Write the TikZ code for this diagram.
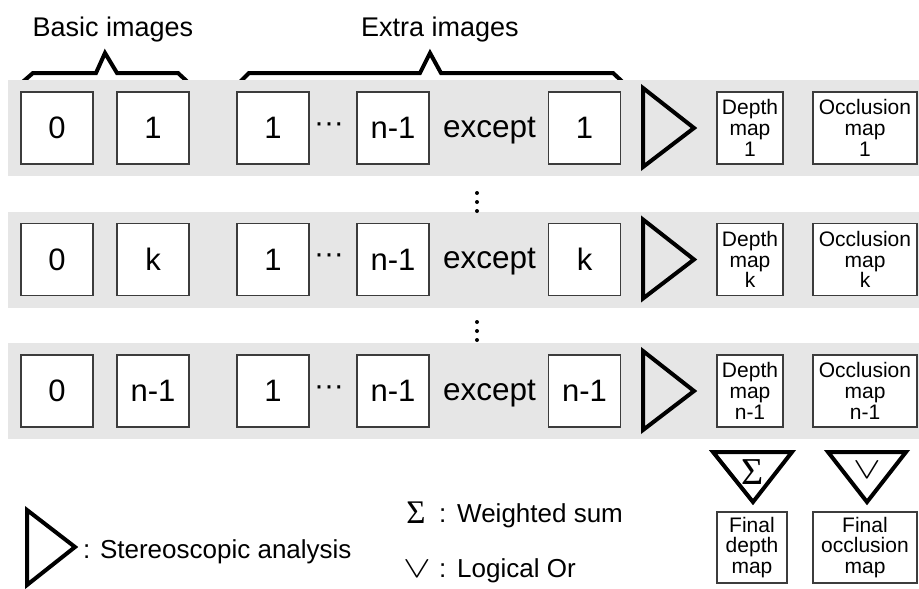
\documentclass[tikz,border=0pt]{standalone}
\usepackage{fontspec}
\setmainfont{Liberation Sans}
\newfontfamily\symserif{Liberation Serif}
\definecolor{bandgray}{RGB}{230,230,230}
\definecolor{boxgray}{RGB}{60,60,60}
\begin{document}
\begin{tikzpicture}[x=1pt,y=-1pt,
  imgbox/.style={draw=boxgray, line width=1.3pt, fill=white, minimum width=72pt, minimum height=72pt, inner sep=0pt, font=\fontsize{31}{31}\selectfont},
  mapbox/.style={draw=boxgray, line width=1.3pt, fill=white, minimum width=66pt, minimum height=72pt, inner sep=0pt, align=center, font=\fontsize{21}{20.8}\selectfont},
  occbox/.style={mapbox, minimum width=104pt},
  thickline/.style={line width=4pt, line join=miter},
  bracket/.style={line width=4pt, line join=miter},
  label/.style={font=\fontsize{27}{27}\selectfont, inner sep=0pt},
  leglabel/.style={font=\fontsize{26}{26}\selectfont, inner sep=0pt},
  bigtext/.style={font=\fontsize{31.5}{31.5}\selectfont, inner sep=0pt},
  dotmark/.style={fill=black, draw=none}
]
\useasboundingbox (0,0) rectangle (919,589);

% top labels and brackets
\node[label, anchor=base] (basic) at (113,36) {Basic images};
\node[label, anchor=base] (extra) at (440,36) {Extra images};
\draw[bracket] (18,86) -- (33,73) -- (96,73) -- (105,53) -- (117,73) -- (178,73) -- (192,86);
\draw[bracket] (236,86) -- (249,73) -- (420,73) -- (430,53) -- (441,73) -- (613,73) -- (627,86);

% rows
\foreach \r/\yy/\lab in {1/128/1, 2/259.5/k, 3/391/n-1}{
  \fill[bandgray] (8,\yy-48) rectangle (919,\yy+48);
  \node[imgbox] (zero\r) at (57,\yy) {0};
  \node[imgbox] (sec\r) at (153,\yy) {\lab};
  \node[imgbox] (exa\r) at (273,\yy) {1};
  \node[inner sep=0pt, anchor=base, font=\fontsize{30}{30}\selectfont] (dots\r) at (329,\yy+4) {···};
  \node[imgbox] (exb\r) at (393,\yy) {n-1};
  \node[bigtext, anchor=base] (exc\r) at (489.5,\yy+9) {except};
  \node[imgbox] (last\r) at (584.5,\yy) {\lab};
  \draw[thickline] (643,\yy-40) -- (694,\yy) -- (643,\yy+39) -- cycle;
  \node[mapbox] (depth\r) at (750,\yy) {Depth\\map\\\lab};
  \node[occbox] (occ\r) at (865,\yy) {Occlusion\\map\\\lab};
}

% vertical dots between rows
\foreach \yy in {193,202,211,322,331,340}{
  \fill[dotmark] (477,\yy) circle (2pt);
}

% combining triangles
\draw[thickline] (713,452) -- (792,452) -- (753,502) -- cycle;
\node[inner sep=0pt, font=\symserif\fontsize{38}{38}\selectfont] (sigma) at (753,472) {Σ};
\draw[thickline] (828,452) -- (906,452) -- (867,502) -- cycle;
\node[inner sep=0pt, font=\fontsize{20}{20}\selectfont] (orsym) at (867,470) {\scalebox{2}[1.45]{$\vee$}};

\node[mapbox, minimum width=70pt, minimum height=71pt] (fdepth) at (752,547.5) {Final\\depth\\map};
\node[occbox, minimum height=71pt] (focc) at (865,547.5) {Final\\occlusion\\map};

% legend
\draw[thickline] (27,510) -- (75,547) -- (27,585) -- cycle;
\node[leglabel, anchor=base west] (stlab) at (83,558) {: Stereoscopic analysis};

\node[inner sep=0pt, anchor=base, font=\symserif\fontsize{33}{33}\selectfont] (lsig) at (416,523) {Σ};
\node[leglabel, anchor=base west] (c1) at (439,522) {:};
\node[leglabel, anchor=base west] (ws) at (457,522) {Weighted sum};
\node[inner sep=0pt, anchor=base, font=\fontsize{20}{20}\selectfont] (lor) at (417,577) {\scalebox{2}[1.45]{$\vee$}};
\node[leglabel, anchor=base west] (c2) at (439,577) {:};
\node[leglabel, anchor=base west] (lo) at (457,577) {Logical Or};
\end{tikzpicture}
\end{document}
